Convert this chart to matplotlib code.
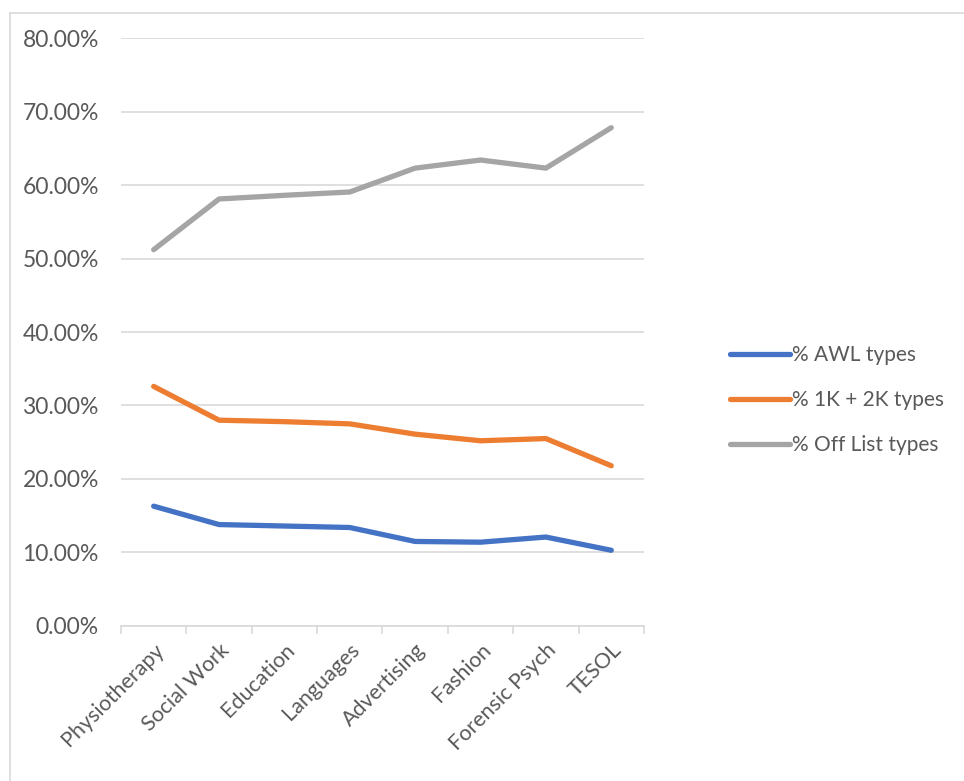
import matplotlib.pyplot as plt
from matplotlib.lines import Line2D
from matplotlib.ticker import FuncFormatter, MultipleLocator

categories = ["Physiotherapy", "Social Work", "Education", "Languages",
              "Advertising", "Fashion", "Forensic Psych", "TESOL"]
awl = [16.3, 13.8, 13.6, 13.4, 11.5, 11.4, 12.1, 10.3]
k1k2 = [32.6, 28.0, 27.8, 27.5, 26.1, 25.2, 25.5, 21.8]
off_list = [51.2, 58.1, 58.6, 59.05, 62.3, 63.4, 62.3, 67.8]

series = [
    ("% AWL types", awl, "#4472C4"),
    ("% 1K + 2K types", k1k2, "#ED7D31"),
    ("% Off List types", off_list, "#A5A5A5"),
]

plt.rcParams["font.family"] = ["Lato", "DejaVu Sans"]
text_color = "#595959"

fig = plt.figure(figsize=(9.64, 7.81), dpi=100)
ax = fig.add_axes([0.1255, 0.1985, 0.5425, 0.7528])

x = range(len(categories))
for label, values, color in series:
    ax.plot(x, values, color=color, linewidth=3.8, solid_capstyle="round",
            solid_joinstyle="round", label=label)

ax.set_ylim(0, 80)
ax.set_xlim(-0.5, len(categories) - 0.5)
ax.yaxis.set_major_locator(MultipleLocator(10))
ax.yaxis.set_major_formatter(FuncFormatter(lambda v, pos: f"{v:.2f}%"))
ax.grid(True, axis="y", color="#D9D9D9", linewidth=1.2)
ax.set_axisbelow(True)

for side in ["left", "right", "top"]:
    ax.spines[side].set_visible(False)
ax.spines["bottom"].set_color("#D9D9D9")
ax.spines["bottom"].set_linewidth(1.2)

ax.tick_params(axis="y", length=0, pad=16, labelsize=16.5, labelcolor=text_color)
ax.set_xticks(list(x))
ax.set_xticklabels(categories, rotation=45, ha="right", rotation_mode="anchor")
ax.tick_params(axis="x", which="major", length=0, pad=10, labelsize=15.5,
               labelcolor=text_color)
ax.set_xticks([i - 0.5 for i in range(len(categories) + 1)], minor=True)
ax.tick_params(axis="x", which="minor", length=6, width=1.2, color="#D9D9D9")

ax.legend(loc="center left", bbox_to_anchor=(730 / 964, 1 - 400 / 781),
          bbox_transform=fig.transFigure, frameon=False, borderpad=0,
          borderaxespad=0, fontsize=15, labelcolor=text_color,
          handlelength=2.9, handletextpad=0.1, labelspacing=1.2)

# chart area border (Excel style)
fig.add_artist(Line2D([10 / 964, 10 / 964], [0, 1 - 13 / 781],
                      color="#D9D9D9", linewidth=1.2, transform=fig.transFigure))
fig.add_artist(Line2D([10 / 964, 1], [1 - 13 / 781, 1 - 13 / 781],
                      color="#D9D9D9", linewidth=1.2, transform=fig.transFigure))

fig.savefig("out.png", dpi=100)
